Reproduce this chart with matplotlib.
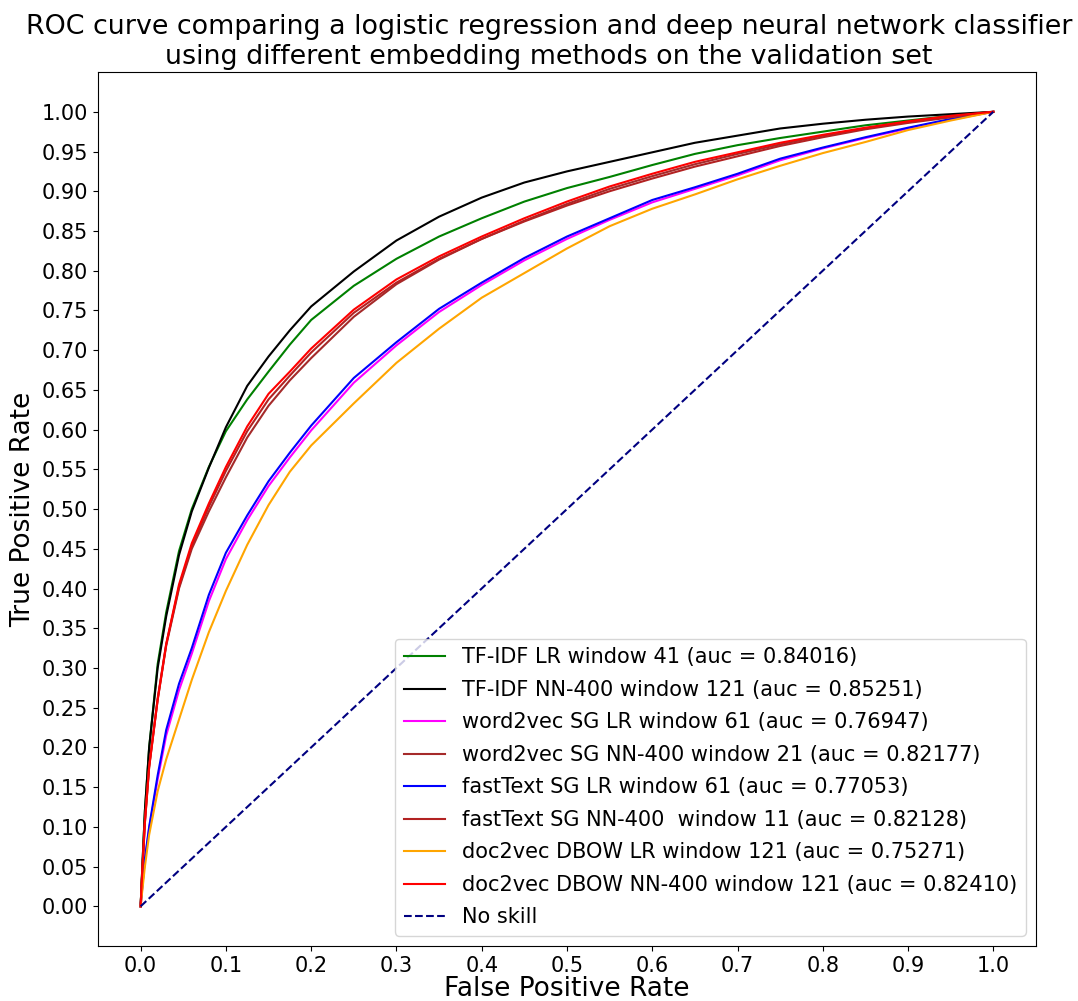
import matplotlib
matplotlib.use("Agg")
import matplotlib.pyplot as plt
import numpy as np

# false positive rate grid shared by all curves
fpr = [0, 0.002, 0.005, 0.01, 0.02, 0.03, 0.045, 0.06, 0.08, 0.1, 0.125, 0.15, 0.175, 0.2,
       0.25, 0.3, 0.35, 0.4, 0.45, 0.5, 0.55, 0.6, 0.65, 0.7, 0.75, 0.8, 0.85, 0.9, 0.95, 1.0]

tpr_tfidf_lr = [0, 0.05, 0.12, 0.20, 0.305, 0.37, 0.447, 0.50, 0.553, 0.598, 0.638, 0.673, 0.707, 0.738,
                0.781, 0.815, 0.843, 0.866, 0.887, 0.904, 0.918, 0.933, 0.947, 0.958, 0.967, 0.975, 0.983, 0.989, 0.995, 1.0]
tpr_tfidf_nn = [0, 0.05, 0.12, 0.20, 0.30, 0.365, 0.442, 0.497, 0.552, 0.603, 0.655, 0.692, 0.725, 0.755,
                0.799, 0.838, 0.868, 0.892, 0.911, 0.925, 0.937, 0.949, 0.961, 0.970, 0.979, 0.985, 0.990, 0.994, 0.997, 1.0]
tpr_w2v_lr = [0, 0.025, 0.058, 0.098, 0.16, 0.215, 0.272, 0.318, 0.384, 0.437, 0.486, 0.529, 0.565, 0.599,
              0.659, 0.706, 0.748, 0.782, 0.813, 0.840, 0.864, 0.886, 0.903, 0.920, 0.939, 0.954, 0.967, 0.979, 0.990, 1.0]
tpr_w2v_nn = [0, 0.045, 0.105, 0.175, 0.26, 0.328, 0.40, 0.45, 0.497, 0.54, 0.59, 0.630, 0.662, 0.690,
              0.742, 0.783, 0.814, 0.840, 0.863, 0.884, 0.903, 0.919, 0.934, 0.947, 0.959, 0.970, 0.979, 0.987, 0.994, 1.0]
tpr_ft_lr = [0, 0.025, 0.06, 0.10, 0.165, 0.222, 0.280, 0.325, 0.392, 0.445, 0.492, 0.535, 0.571, 0.605,
             0.665, 0.710, 0.752, 0.785, 0.816, 0.843, 0.866, 0.889, 0.905, 0.922, 0.941, 0.955, 0.968, 0.980, 0.991, 1.0]
tpr_ft_nn = [0, 0.045, 0.108, 0.177, 0.262, 0.33, 0.402, 0.453, 0.503, 0.548, 0.598, 0.638, 0.668, 0.697,
             0.747, 0.785, 0.815, 0.840, 0.862, 0.882, 0.900, 0.916, 0.931, 0.944, 0.957, 0.968, 0.978, 0.986, 0.993, 1.0]
tpr_d2v_lr = [0, 0.02, 0.05, 0.09, 0.145, 0.185, 0.235, 0.285, 0.345, 0.397, 0.455, 0.505, 0.547, 0.580,
              0.633, 0.684, 0.727, 0.766, 0.797, 0.828, 0.856, 0.878, 0.896, 0.915, 0.932, 0.948, 0.962, 0.977, 0.989, 1.0]
tpr_d2v_nn = [0, 0.045, 0.105, 0.175, 0.26, 0.33, 0.405, 0.457, 0.507, 0.553, 0.604, 0.645, 0.673, 0.702,
              0.751, 0.789, 0.818, 0.843, 0.866, 0.887, 0.906, 0.922, 0.937, 0.949, 0.961, 0.971, 0.980, 0.988, 0.995, 1.0]

labels = [
    "TF-IDF LR window 41 (auc = 0.84016)",
    "TF-IDF NN-400 window 121 (auc = 0.85251)",
    "word2vec SG LR window 61 (auc = 0.76947)",
    "word2vec SG NN-400 window 21 (auc = 0.82177)",
    "fastText SG LR window 61 (auc = 0.77053)",
    "fastText SG NN-400  window 11 (auc = 0.82128)",
    "doc2vec DBOW LR window 121 (auc = 0.75271)",
    "doc2vec DBOW NN-400 window 121 (auc = 0.82410)",
]
curves = [tpr_tfidf_lr, tpr_tfidf_nn, tpr_w2v_lr, tpr_w2v_nn,
          tpr_ft_lr, tpr_ft_nn, tpr_d2v_lr, tpr_d2v_nn]
colors = ["green", "black", "magenta", "brown", "blue", "firebrick", "orange", "red"]

fig = plt.figure(figsize=(10.78, 10.01), dpi=100)
ax = fig.add_axes([0.0909, 0.0549, 0.8701, 0.8731])

for tpr, lab, col in zip(curves, labels, colors):
    ax.plot(fpr, tpr, color=col, lw=1.5, label=lab)
ax.plot([0, 1], [0, 1], color="navy", lw=1.5, linestyle="--", label="No skill")

ax.set_xticks(np.arange(0, 1.01, 0.1))
ax.set_yticks(np.arange(0, 1.01, 0.05))
ax.set_xticklabels([f"{v:.1f}" for v in np.arange(0, 1.01, 0.1)])
ax.set_yticklabels([f"{v:.2f}" for v in np.arange(0, 1.01, 0.05)])
ax.tick_params(labelsize=15)

ax.set_xlabel("False Positive Rate", fontsize=19, labelpad=0)
ax.set_ylabel("True Positive Rate", fontsize=19)
ax.set_title("ROC curve comparing a logistic regression and deep neural network classifier\n"
             "using different embedding methods on the validation set", fontsize=19.4, x=0.481)
ax.legend(loc="lower right", fontsize=15, labelspacing=0.6)

fig.savefig("out.png", dpi=100)
